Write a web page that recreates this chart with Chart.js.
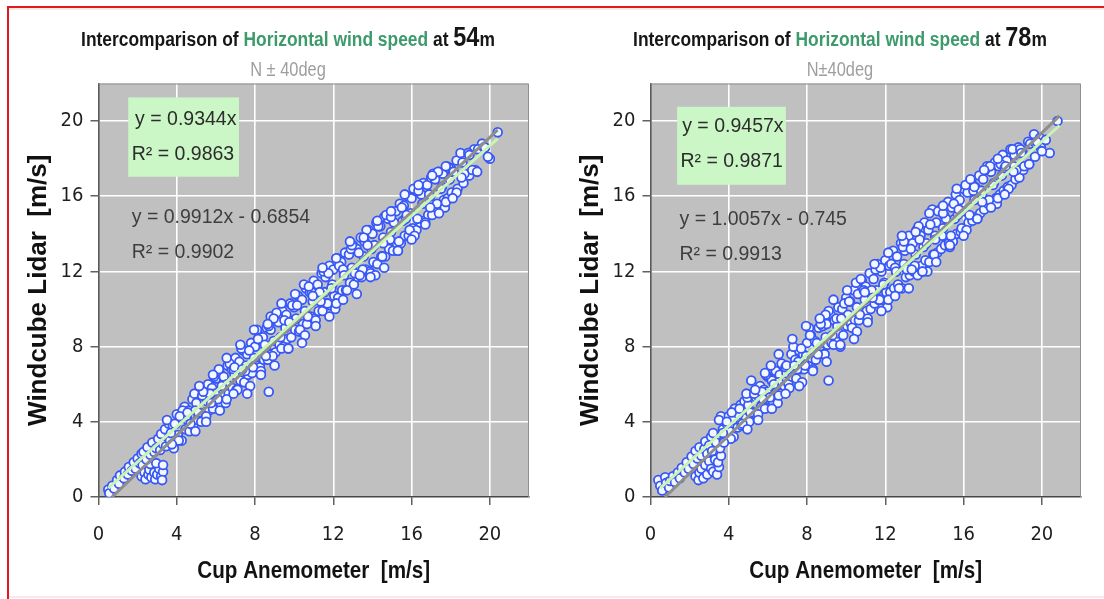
<!DOCTYPE html>
<html>
<head>
<meta charset="utf-8">
<script src="https://cdn.jsdelivr.net/npm/chart.js@4.4.1/dist/chart.umd.min.js"></script>
<style>
  html, body { margin: 0; padding: 0; background: #fff; }
  #page { position: relative; width: 1104px; height: 599px; overflow: hidden; background: #fff; }
  .frame-top { position: absolute; left: 7px; top: 6px; width: 1097px; height: 2px; background: #e3171f; }
  .frame-shade { position: absolute; left: 9px; top: 8px; width: 1095px; height: 2px; background: #fcebe0; }
  .frame-left { position: absolute; left: 7px; top: 6px; width: 2px; height: 593px; background: #e3171f; }
  .frame-bottom { position: absolute; left: 9px; top: 596px; width: 1095px; height: 2px; background: #fbe6ef; }
  canvas { position: absolute; top: 0; }
  .title { position: absolute; top: 26px; width: 560px; text-align: center; white-space: nowrap;
           font-family: 'Liberation Sans', Arial, sans-serif; font-weight: bold; font-size: 20px;
           line-height: 26px; color: #161616; transform: scaleX(0.87); transform-origin: 50% 50%; }
  .title .hl { color: #3c9a6b; }
  .title .big { font-size: 27px; line-height: 20px; }
  .sub { position: absolute; top: 58px; width: 300px; text-align: center; white-space: nowrap;
         font-family: 'Liberation Sans', Arial, sans-serif; font-size: 20px; line-height: 22px;
         color: #9e9e9e; transform: scaleX(0.82); transform-origin: 50% 50%; }
</style>
</head>
<body>
<div id="page">
  <div class="frame-shade"></div>
  <div class="frame-top"></div>
  <div class="frame-left"></div>
  <div class="frame-bottom"></div>
  <canvas id="c54" width="552" height="599" style="left:0"></canvas>
  <canvas id="c78" width="552" height="599" style="left:552px"></canvas>
  <div class="title" style="left:8px">Intercomparison of <span class="hl">Horizontal wind speed</span> at <span class="big">54</span>m</div>
  <div class="sub" style="left:138px">N ± 40deg</div>
  <div class="title" style="left:560px">Intercomparison of <span class="hl">Horizontal wind speed</span> at <span class="big">78</span>m</div>
  <div class="sub" style="left:690px">N±40deg</div>
</div>
<script>
// Cup anemometer vs. Windcube lidar, 10-min mean horizontal wind speed [m/s], sector N ± 40deg

const tickValues = [0, 4, 8, 12, 16, 20];

// 54 m: [cup, lidar]
const pairs54 = [
  [0.5,0.4],[0.55,0.2],[0.7,0.6],[0.8,0.45],[0.95,0.9],[1.05,0.7],[1.1,1.15],[1.3,1.0],[1.35,1.35],[1.5,1.2],
  [1.55,1.6],[1.7,1.4],[1.8,1.85],[1.9,1.5],[2.0,2.05],[2.1,1.8],[2.2,2.3],[2.25,1.7],
  [2.2,1.1],[2.35,1.3],[2.4,0.95],[2.55,1.2],[2.6,1.45],[2.7,1.05],[2.85,1.3],[2.9,0.95],[3.0,1.2],[3.1,1.5],
  [3.2,1.1],[3.3,1.35],[3.25,0.9],[2.65,1.75],[2.95,1.8],[3.3,1.7],
  [2.3,2.4],[2.45,2.0],[2.5,2.65],[2.65,2.25],[2.75,2.9],[2.85,2.4],[2.95,2.6],[3.05,3.1],[3.15,2.5],[3.2,3.35],[3.3,2.8],
  [3.4,3.6],[3.45,2.7],[3.6,3.9],[3.65,3.0],[3.8,3.8],[3.85,2.6],[4.0,4.4],[4.05,3.3],[3.95,3.9],
  [4.2,4.2],[4.25,3.0],[4.4,4.8],[4.45,3.6],[4.6,4.6],[4.65,3.5],[4.55,4.1],[4.8,5.2],[4.85,3.8],
  [5.0,5.0],[5.05,4.1],[4.95,4.6],[5.2,5.6],[5.25,4.0],[5.4,5.4],[5.45,4.5],[5.6,6.0],[5.65,4.6],[5.55,5.1],
  [5.8,5.8],[5.85,4.7],[6.0,6.3],[6.05,5.1],[5.95,5.5],[6.2,6.6],[6.25,5.0],[6.4,6.4],[6.45,5.4],
  [6.6,7.0],[6.65,5.5],[6.55,6.0],[6.8,6.8],[6.85,5.8],[7.0,7.4],[7.05,5.7],[6.95,6.5],[7.2,7.2],[7.25,6.2],
  [7.4,7.8],[7.45,6.1],[7.6,7.6],[7.65,6.5],[7.55,7.0],[7.8,8.2],[7.85,6.6],[8.0,8.0],[8.05,7.0],[7.95,7.4],
  [8.2,8.6],[8.25,6.9],[8.4,8.5],[8.45,7.3],[8.6,9.0],[8.65,7.3],[8.55,7.9],[8.7,5.6],[8.8,9.6],
  [8.8,8.9],[8.85,7.6],[9.0,9.4],[9.05,7.7],[8.95,8.3],[9.2,9.3],[9.25,8.1],[9.4,9.9],[9.45,8.0],
  [9.6,9.7],[9.65,8.4],[9.55,9.0],[9.8,10.3],[9.85,8.5],[10.0,10.1],[10.05,8.9],[9.95,9.4],[10.2,10.7],[10.25,8.8],
  [10.4,10.5],[10.45,9.2],[10.6,11.1],[10.65,9.2],[10.55,9.9],[10.8,10.9],[10.85,9.6],[11.0,11.5],[11.05,9.5],[10.95,10.4],
  [11.2,11.3],[11.25,9.9],[11.4,11.9],[11.45,9.9],[11.6,11.7],[11.65,10.3],[11.55,10.9],[11.8,12.3],[11.85,10.2],
  [12.0,12.1],[12.05,10.7],[11.95,11.3],[12.2,12.7],[12.25,10.6],[12.4,12.5],[12.45,11.0],[12.6,13.0],[12.65,11.0],[12.55,11.9],
  [12.8,12.9],[12.85,11.4],[13.0,13.4],[13.05,11.3],[12.95,12.2],[13.2,13.2],[13.25,11.7],[13.4,13.8],[13.45,11.7],
  [13.6,13.6],[13.65,12.1],[13.55,12.8],[13.8,14.2],[13.85,12.0],[14.0,14.0],[14.05,12.5],[13.95,13.2],[14.2,14.6],[14.25,12.4],
  [14.4,14.4],[14.45,12.8],[14.6,14.9],[14.65,12.8],[14.55,13.8],[14.8,14.8],[14.85,13.2],[15.0,15.2],[15.05,13.1],[14.95,14.1],
  [15.2,15.2],[15.25,13.5],[15.4,15.6],[15.45,13.5],[15.6,15.5],[15.65,13.9],[15.55,14.7],[15.8,16.0],[15.85,13.9],
  [16.0,15.9],[16.05,14.3],[15.95,15.1],[16.2,16.3],[16.25,14.2],[16.4,16.2],[16.45,14.6],[16.6,16.7],[16.65,14.7],[16.55,15.6],
  [16.8,16.6],[16.85,15.0],[17.0,17.0],[17.05,15.0],[16.95,16.0],[17.2,16.9],[17.25,15.4],[17.4,17.3],[17.45,15.5],
  [17.6,17.2],[17.65,15.8],[17.55,16.5],[17.8,17.6],[17.85,15.9],[18.0,17.5],[18.05,16.2],[17.95,16.9],
  [18.3,17.9],[18.35,16.4],[18.6,17.8],[18.65,16.7],[18.9,18.3],[18.95,17.1],[19.2,18.5],[19.25,17.4],
  [19.6,18.8],[20.0,18.0],[20.4,19.4],
  [3.5,4.1],[3.7,3.4],[3.9,3.9],[4.1,3.0],[4.3,4.6],[4.5,4.3],[4.7,3.9],[4.9,5.5],[5.1,4.5],[5.3,5.4],
  [5.5,4.3],[5.7,5.5],[5.9,6.4],[6.1,5.2],[6.3,5.9],[6.5,5.0],[6.7,7.1],[6.9,6.8],[7.1,5.7],[7.3,7.9],
  [7.5,6.7],[7.7,7.8],[7.9,6.9],[8.1,8.9],[8.3,6.7],[8.5,8.1],[8.7,9.1],[8.9,7.5],[9.1,9.8],[9.3,8.5],
  [9.5,9.4],[9.7,7.9],[9.9,10.2],[10.1,9.5],[10.3,8.9],[10.5,11.3],[10.7,9.6],[10.9,10.9],[11.1,9.4],[11.3,10.9],
  [11.5,12.0],[11.7,10.3],[11.9,11.1],[12.1,10.0],[12.3,12.3],[12.5,12.1],[12.7,11.0],[12.9,13.2],[13.1,11.9],[13.3,13.0],
  [13.5,12.1],[13.7,14.2],[13.9,11.9],[14.1,13.4],[14.3,14.4],[14.5,12.8],[14.7,15.0],[14.9,13.7],[15.1,14.6],[15.3,13.1],
  [15.5,15.4],[15.7,14.8],[15.9,14.2],[16.1,16.4],[16.3,14.8],[16.5,16.1],[16.7,14.6],[16.9,16.1],[17.1,17.2],[17.3,15.6],
  [17.5,16.4],[17.7,15.4],[17.9,17.5],[18.1,17.3],[18.3,16.2],[18.5,18.3],[18.7,17.2],[18.9,18.3],[19.1,17.4],[19.4,18.5],
  [19.7,18.6],[19.9,18.1],
  [3.75,2.8],[4.15,4.3],[4.55,4.5],[4.95,3.5],[5.35,5.6],[5.75,5.0],[6.15,6.8],[6.55,5.2],[6.95,6.9],[7.35,6.8],
  [7.75,5.9],[8.15,8.4],[8.55,7.5],[8.95,9.5],[9.35,7.9],[9.75,9.3],[10.15,10.2],[10.55,8.6],[10.95,10.7],[11.35,10.4],
  [11.75,11.9],[12.15,10.3],[12.55,11.8],[12.95,13.4],[13.35,11.8],[13.75,13.4],[14.15,11.8],[14.55,13.5],[14.95,14.9],[15.35,13.6],
  [15.75,15.0],[16.15,13.9],[16.35,16.3],[16.95,15.4],[17.35,17.3],[17.75,15.7],[18.15,17.3],[18.55,17.0],[18.95,18.2],[19.35,17.3],
  [19.75,18.6],
  [5.15,5.9],[5.5,4.0],[5.85,6.5],[6.2,4.6],[6.55,7.4],[6.9,5.5],[7.25,8.1],[7.6,5.5],[7.95,8.9],[8.3,6.5],
  [8.65,9.2],[9.0,7.0],[9.35,10.3],[9.7,7.9],[10.05,10.8],[10.4,8.2],[10.75,11.2],[11.1,9.1],[11.45,12.2],[11.8,9.6],
  [12.15,12.7],[12.5,10.5],[12.85,13.6],[13.2,10.8],[13.55,13.8],[13.9,11.7],[14.25,14.7],[14.6,12.2],[14.95,15.2],[15.3,13.1],
  [15.65,16.1],[16.0,13.7],[16.35,16.6],[16.7,14.5],[17.05,17.1],[17.4,15.1],[17.75,17.6],[18.1,15.9]
];

// 78 m: [cup, lidar]
const pairs78 = [
  [0.4,0.9],[0.5,0.6],[0.6,0.35],[0.75,1.05],[0.8,0.75],[0.95,0.5],[1.0,0.85],[1.15,1.1],[1.25,0.8],[1.4,1.3],
  [1.5,1.0],[1.6,1.55],[1.75,1.3],[1.85,1.85],[1.95,1.5],[2.1,2.15],[2.2,1.75],[2.3,2.45],[2.4,2.05],[2.5,2.65],
  [2.6,2.2],[2.75,2.55],[2.8,2.95],[2.9,2.3],[3.0,2.75],[3.1,3.2],
  [2.3,1.1],[2.45,0.9],[2.5,1.3],[2.6,1.5],[2.7,1.0],[2.8,1.7],[2.9,1.2],[3.0,1.9],[3.1,1.5],[3.2,1.35],
  [3.3,2.0],[3.4,1.2],[3.5,1.6],[3.45,1.85],[3.6,2.2],[3.55,2.6],[3.35,2.9],[3.15,2.45],
  [3.2,3.4],[3.6,4.3],[3.7,3.6],[3.75,3.0],[4.0,4.3],[4.05,3.5],[3.9,3.9],[4.2,4.1],[4.25,3.2],
  [4.4,4.6],[4.45,3.7],[4.6,4.9],[4.65,3.8],[4.55,4.4],[4.8,5.1],[4.85,4.2],[5.0,4.9],[5.05,4.0],[4.95,5.3],
  [5.2,5.5],[5.25,4.5],[5.4,5.3],[5.45,4.3],[5.6,5.9],[5.65,4.8],[5.55,5.3],[5.8,5.7],[5.85,4.7],
  [6.0,6.4],[6.05,5.2],[5.95,5.6],[6.2,6.2],[6.25,5.1],[6.4,6.7],[6.45,5.6],[6.6,6.5],[6.65,5.5],[6.55,6.1],
  [6.8,7.0],[6.85,5.9],[7.0,6.9],[7.05,6.0],[6.95,6.6],[7.2,7.6],[7.25,6.4],[7.4,7.3],[7.45,6.3],
  [7.6,7.8],[7.65,6.8],[7.55,7.2],[7.8,7.6],[7.85,6.8],[8.0,8.2],[8.05,7.0],[7.95,7.5],[8.2,8.6],[8.25,7.4],
  [8.4,8.3],[8.45,7.3],[8.6,9.0],[8.65,7.8],[8.55,8.1],[8.8,9.1],[8.85,7.6],[9.0,9.2],[9.05,8.1],[8.95,8.5],
  [9.1,6.2],[9.2,9.7],[9.25,8.2],[9.4,9.4],[9.45,8.4],[9.6,10.1],[9.65,8.7],[9.55,9.1],[9.8,10.0],[9.85,8.6],
  [10.0,10.6],[10.05,9.1],[9.95,9.5],[10.2,10.4],[10.25,9.2],[10.4,11.0],[10.45,9.4],[10.6,10.8],[10.65,9.4],[10.55,10.1],
  [10.8,11.5],[10.85,9.8],[11.0,11.2],[11.05,9.9],[10.95,10.5],[11.2,11.9],[11.25,10.0],[11.4,11.6],[11.45,10.3],
  [11.6,12.4],[11.65,10.5],[11.55,11.0],[11.8,12.0],[11.85,10.5],[12.0,12.6],[12.05,10.9],[11.95,11.4],[12.2,12.3],[12.25,10.9],
  [12.4,13.1],[12.45,11.1],[12.6,12.8],[12.65,11.3],[12.55,12.0],[12.8,13.5],[12.85,11.1],[13.0,13.1],[13.05,11.7],[12.95,12.4],
  [13.2,13.9],[13.25,11.8],[13.4,13.5],[13.45,12.0],[13.6,14.2],[13.65,11.8],[13.55,12.9],[13.8,13.9],[13.85,12.3],
  [14.0,14.6],[14.05,12.6],[13.95,13.3],[14.2,14.2],[14.25,12.5],[14.4,15.3],[14.45,12.9],[14.6,14.6],[14.65,13.0],[14.55,13.9],
  [14.8,15.3],[14.85,13.2],[15.0,15.0],[15.05,13.4],[14.95,14.3],[15.2,15.7],[15.25,13.5],[15.4,15.4],[15.45,13.6],
  [15.6,16.1],[15.65,14.0],[15.55,14.8],[15.8,15.8],[15.85,14.1],[16.0,16.4],[16.05,14.3],[15.95,15.2],[16.2,16.2],[16.25,14.6],
  [16.4,16.8],[16.45,14.7],[16.6,16.5],[16.65,14.9],[16.55,15.8],[16.8,17.1],[16.85,15.1],[17.0,16.9],[17.05,15.3],[16.95,16.1],
  [17.2,17.6],[17.25,15.6],[17.4,17.3],[17.45,15.7],[17.6,17.8],[17.65,15.9],[17.55,16.7],[17.8,17.6],[17.85,16.1],
  [18.0,18.2],[18.05,16.3],[17.95,17.1],[18.2,17.9],[18.25,16.5],[18.4,18.5],[18.45,16.6],[18.6,18.2],[18.65,16.9],[18.55,17.6],
  [18.8,18.6],[18.85,17.0],[19.0,18.4],[19.05,17.4],[19.3,18.9],[19.35,17.7],[19.6,19.3],[19.65,18.1],
  [19.9,19.1],[19.95,18.6],[20.2,19.0],[20.4,18.3],[20.8,20.0],
  [3.5,4.1],[3.7,3.4],[3.9,4.0],[4.1,3.1],[4.3,4.7],[4.5,4.4],[4.7,3.9],[4.9,5.5],[5.1,4.5],[5.3,5.5],
  [5.5,4.4],[5.7,5.6],[5.9,6.5],[6.1,5.3],[6.3,6.0],[6.5,5.0],[6.7,7.1],[6.9,6.9],[7.1,5.8],[7.3,8.0],
  [7.5,6.8],[7.7,7.9],[7.9,7.0],[8.1,9.0],[8.3,6.8],[8.5,8.2],[8.7,9.2],[8.9,7.6],[9.1,9.9],[9.3,8.6],
  [9.5,9.5],[9.7,8.0],[9.9,10.3],[10.1,9.7],[10.3,9.0],[10.5,11.4],[10.7,9.7],[10.9,11.0],[11.1,9.5],[11.3,11.0],
  [11.5,12.1],[11.7,10.5],[11.9,11.3],[12.1,10.1],[12.3,12.4],[12.5,12.2],[12.7,11.1],[12.9,13.3],[13.1,12.1],[13.3,13.2],
  [13.5,12.3],[13.7,14.4],[13.9,12.0],[14.1,13.5],[14.3,14.5],[14.5,12.9],[14.7,15.2],[14.9,13.9],[15.1,14.8],[15.3,13.3],
  [15.5,15.6],[15.7,15.0],[15.9,14.3],[16.1,16.6],[16.3,15.0],[16.5,16.3],[16.7,14.8],[16.9,16.3],[17.1,17.4],[17.3,15.8],
  [17.5,16.6],[17.7,15.6],[17.9,17.7],[18.1,17.5],[18.3,16.4],[18.5,18.5],[18.7,17.4],[18.9,18.5],[19.1,17.6],[19.4,18.8],
  [19.7,18.8],[20.0,18.4],
  [3.75,2.9],[4.15,4.5],[4.55,4.7],[4.95,3.6],[5.35,5.7],[5.75,5.2],[6.15,7.0],[6.55,5.4],[6.95,7.0],[7.35,7.0],
  [7.75,6.1],[8.15,8.6],[8.55,7.6],[8.95,9.7],[9.35,8.1],[9.75,9.5],[10.15,10.4],[10.55,8.8],[10.95,10.9],[11.35,10.6],
  [11.75,12.2],[12.15,10.5],[12.55,12.0],[12.95,13.6],[13.35,12.1],[13.75,13.7],[14.15,12.0],[14.55,13.7],[14.95,15.1],[15.35,13.9],
  [15.75,15.3],[16.15,14.2],[16.55,16.5],[16.95,15.7],[17.35,17.6],[17.75,15.9],[18.15,17.6],[18.55,17.3],[18.95,18.3],[19.35,17.7],
  [19.75,18.9],
  [5.15,6.2],[5.5,4.1],[5.85,6.6],[6.2,4.7],[6.55,7.6],[6.9,5.5],[7.25,8.4],[7.6,5.9],[7.95,9.1],[8.3,6.7],
  [8.65,9.5],[9.0,7.2],[9.35,10.5],[9.7,8.1],[10.05,11.0],[10.4,8.4],[10.75,11.6],[11.1,9.3],[11.45,12.4],[11.8,9.9],
  [12.15,13.0],[12.5,10.7],[12.85,13.9],[13.2,11.1],[13.55,14.1],[13.9,12.0],[14.25,15.1],[14.6,12.5],[14.95,15.5],[15.3,13.4],
  [15.65,16.4],[16.0,13.9],[16.35,16.9],[16.7,14.8],[17.05,17.4],[17.4,15.4],[17.75,18.0],[18.1,16.1]
];

// trendlines: [through origin, free intercept]
const slopes54 = [0.9344, 0.9912];
const intercepts54 = [0, -0.6854];
const r2_54 = [0.9863, 0.9902];
const spans54 = [[0.5, 20.4], [0.7, 20.4]];

const slopes78 = [0.9457, 1.0057];
const intercepts78 = [0, -0.745];
const r2_78 = [0.9871, 0.9913];
const spans78 = [[0.5, 20.9], [0.74, 20.9]];

const xTitle = 'Cup Anemometer  [m/s]';
const yTitle = 'Windcube Lidar  [m/s]';

const condensed = "'DejaVu Sans Condensed','Liberation Sans Narrow',sans-serif";
const sans = "'Liberation Sans',Arial,sans-serif";

function eqText(slope, intercept) {
  if (intercept === 0) return 'y = ' + slope + 'x';
  return 'y = ' + slope + 'x ' + (intercept < 0 ? '- ' : '+ ') + Math.abs(intercept);
}

// gray plotting area plus top/right frame
const plotFrame = {
  id: 'plotFrame',
  beforeDraw(chart) {
    const { ctx, chartArea: a } = chart;
    ctx.save();
    ctx.fillStyle = '#c0c0c0';
    ctx.fillRect(a.left, a.top, a.right - a.left, a.bottom - a.top);
    ctx.restore();
  },
  afterDraw(chart) {
    const { ctx, chartArea: a } = chart;
    ctx.save();
    ctx.strokeStyle = '#8e8e8e';
    ctx.lineWidth = 1;
    ctx.beginPath();
    ctx.moveTo(a.left, a.top + 0.5);
    ctx.lineTo(a.right - 0.5, a.top + 0.5);
    ctx.lineTo(a.right - 0.5, a.bottom);
    ctx.stroke();
    ctx.restore();
  }
};

// narrow bold x-axis caption centred under the plot
const narrowCaption = {
  id: 'narrowCaption',
  afterDraw(chart, args, opts) {
    const { ctx, chartArea: a } = chart;
    ctx.save();
    ctx.font = 'bold 24px ' + sans;
    ctx.fillStyle = '#121212';
    ctx.textAlign = 'center';
    ctx.textBaseline = 'middle';
    ctx.translate((a.left + a.right) / 2, opts.y);
    ctx.scale(0.86, 1);
    ctx.fillText(opts.text, 0, 0);
    ctx.restore();
  }
};

// regression equations, anchored in data coordinates
const fitLabels = {
  id: 'fitLabels',
  beforeDatasetsDraw(chart, args, opts) {
    const { ctx, scales: { x, y } } = chart;
    ctx.save();
    const b = opts.box;
    const x0 = x.getPixelForValue(b[0]), x1 = x.getPixelForValue(b[1]);
    const y0 = y.getPixelForValue(b[2]), y1 = y.getPixelForValue(b[3]);
    ctx.fillStyle = '#cbf6c6';
    ctx.fillRect(x0, y0, x1 - x0, y1 - y0);
    ctx.font = '19.5px ' + sans;
    ctx.textBaseline = 'middle';
    ctx.textAlign = 'left';
    opts.lines.forEach(l => {
      ctx.fillStyle = l.color;
      ctx.fillText(l.text, x.getPixelForValue(l.at[0]), y.getPixelForValue(l.at[1]));
    });
    ctx.restore();
  }
};

function lineData(slope, intercept, span) {
  return span.map(v => ({ x: v, y: slope * v + intercept }));
}

function buildChart(id, pairs, slopes, intercepts, r2, spans, labelPos) {
  const lines = [
    { text: eqText(slopes[0], intercepts[0]), at: labelPos.eq0, color: '#2c2c2c' },
    { text: 'R² = ' + r2[0], at: labelPos.r0, color: '#2c2c2c' },
    { text: eqText(slopes[1], intercepts[1]), at: labelPos.eq1, color: '#3e3e3e' },
    { text: 'R² = ' + r2[1], at: labelPos.r1, color: '#3e3e3e' }
  ];
  const axisGrid = {
    color: c => (c.tick && c.tick.value === 0) ? 'rgba(0,0,0,0)' : '#ffffff',
    lineWidth: 1.6, tickColor: '#3a3a3a', tickLength: 8, tickWidth: 1.2
  };
  return new Chart(document.getElementById(id), {
    type: 'scatter',
    data: {
      datasets: [
        {
          data: pairs.map(p => ({ x: p[0], y: p[1] })),
          pointRadius: 4.4,
          pointBorderWidth: 1.8,
          pointBorderColor: '#3858f6',
          pointBackgroundColor: '#f5f7ff',
          order: 3
        },
        {
          data: lineData(slopes[1], intercepts[1], spans[1]),
          showLine: true, borderColor: '#8e8e8e', borderWidth: 3, pointRadius: 0, order: 2
        },
        {
          data: lineData(slopes[0], intercepts[0], spans[0]),
          showLine: true, borderColor: '#c9f5b3', borderWidth: 3, pointRadius: 0, order: 1
        }
      ]
    },
    options: {
      responsive: false,
      animation: false,
      devicePixelRatio: 1,
      layout: { padding: { top: 83.5, right: 23, left: 0, bottom: 0 } },
      plugins: {
        legend: { display: false },
        tooltip: { enabled: false },
        fitLabels: { box: labelPos.box, lines: lines },
        narrowCaption: { text: xTitle, y: 571 }
      },
      scales: {
        x: {
          type: 'linear', min: 0, max: 22,
          afterBuildTicks: s => { s.ticks = tickValues.map(v => ({ value: v })); },
          afterFit: s => { s.height = 102; },
          grid: axisGrid,
          border: { color: '#474747', width: 1.6 },
          ticks: { font: { family: condensed, size: 20 }, color: '#1e1e1e', padding: 18, maxRotation: 0 },
          title: { display: false }
        },
        y: {
          type: 'linear', min: 0, max: 22,
          afterBuildTicks: s => { s.ticks = tickValues.map(v => ({ value: v })); },
          afterFit: s => { s.width = 98.5; },
          grid: axisGrid,
          border: { color: '#5a5a5a', width: 1.6 },
          ticks: { font: { family: condensed, size: 20 }, color: '#1e1e1e', padding: 7 },
          title: {
            display: true, text: yTitle, color: '#111',
            font: { family: sans, size: 26, weight: 'bold' }, padding: { top: 23.5, bottom: 0 }
          }
        }
      }
    },
    plugins: [plotFrame, fitLabels, narrowCaption]
  });
}

buildChart('c54', pairs54, slopes54, intercepts54, r2_54, spans54, {
  box: [1.52, 7.18, 21.26, 17.04],
  eq0: [1.87, 20.1], r0: [1.70, 18.24], eq1: [1.70, 14.84], r1: [1.70, 12.98]
});
buildChart('c78', pairs78, slopes78, intercepts78, r2_78, spans78, {
  box: [1.36, 6.92, 20.76, 16.61],
  eq0: [1.62, 19.7], r0: [1.53, 17.85], eq1: [1.48, 14.76], r1: [1.48, 12.9]
});
</script>
</body>
</html>
